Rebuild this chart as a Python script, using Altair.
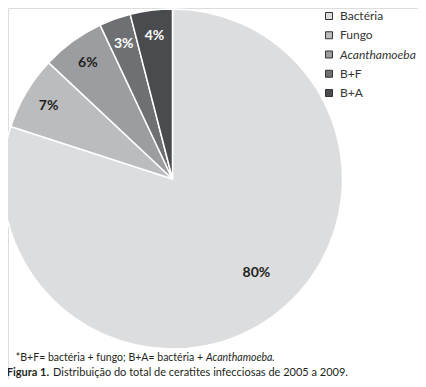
import altair as alt
import pandas as pd

# ---- data ----
categories = ["Bactéria", "Fungo", "Acanthamoeba", "B+F", "B+A"]
values = [80, 7, 6, 3, 4]
palette = ["#dcdddf", "#bbbcbe", "#9c9da0", "#6f7073", "#4a4b4e"]
footnote_normal = "*B+F= bactéria + fungo; B+A= bactéria +"
footnote_italic = "Acanthamoeba."
caption_bold = "Figura 1."
caption_normal = "Distribuição do total de ceratites infecciosas de 2005 a 2009."

FONT = "Lato"
df = pd.DataFrame({"cat": categories, "value": values})

CX, CY, R = 164.5, 171, 170

color_scale = alt.Scale(domain=categories, range=palette)

base = alt.Chart(df).transform_window(
    idx="row_number()"
).transform_calculate(label="datum.value + '%'")

theta = alt.Theta("value:Q", stack=True)
order = alt.Order("idx:Q", sort="ascending")

pie = base.mark_arc(outerRadius=R, stroke="white", strokeWidth=1.5).encode(
    theta=theta,
    order=order,
    color=alt.Color("cat:N", scale=color_scale, legend=None),
    x=alt.value(CX),
    y=alt.value(CY),
)

small_labels = base.mark_text(
    radius=144, font=FONT, fontSize=14, fontWeight="bold", align="center", baseline="middle"
).encode(
    theta=theta,
    order=order,
    x=alt.value(CX),
    y=alt.value(CY),
    text=alt.condition("datum.cat != 'Bactéria'", alt.Text("label:N"), alt.value("")),
    color=alt.condition(
        "datum.cat == 'B+F' || datum.cat == 'B+A'", alt.value("white"), alt.value("#231f20")
    ),
)

big_label = base.mark_text(
    radius=126, thetaOffset=-0.1, font=FONT, fontSize=14, fontWeight="bold",
    align="center", baseline="middle", color="#231f20"
).encode(
    theta=theta,
    order=order,
    x=alt.value(CX),
    y=alt.value(CY),
    text=alt.condition("datum.cat == 'Bactéria'", alt.Text("label:N"), alt.value("")),
)

legend_y = alt.Y(
    "cat:N", sort=categories,
    scale=alt.Scale(type="point", domain=categories, range=[8, 85], padding=0),
    axis=None,
)
legend_base = alt.Chart(df)

swatches = legend_base.mark_square(size=49, stroke="#333333", strokeWidth=1, opacity=1).encode(
    x=alt.value(321),
    y=legend_y,
    color=alt.Color("cat:N", scale=color_scale, legend=None),
)
legend_text = legend_base.mark_text(
    align="left", baseline="middle", font=FONT, fontSize=12, color="#333333"
).encode(
    x=alt.value(332),
    y=legend_y,
    text=alt.condition("datum.cat != 'Acanthamoeba'", alt.Text("cat:N"), alt.value("")),
)
legend_text_it = legend_base.mark_text(
    align="left", baseline="middle", font=FONT, fontSize=12, fontStyle="italic", color="#333333"
).encode(
    x=alt.value(332),
    y=legend_y,
    text=alt.condition("datum.cat == 'Acanthamoeba'", alt.Text("cat:N"), alt.value("")),
)

one = pd.DataFrame({"k": [0]})


def txt(s, x, y, align="left", size=11, **kw):
    return alt.Chart(one).mark_text(
        align=align, baseline="alphabetic", font=FONT, fontSize=size, color="#231f20", **kw
    ).encode(x=alt.value(x), y=alt.value(y), text=alt.value(s))


J1 = 195
J2 = 41
foot1 = txt(footnote_normal, J1, 353, align="right", size=10.5)
foot2 = txt(footnote_italic, J1 + 3, 353, size=10.5, fontStyle="italic")
cap1 = txt(caption_bold, J2, 368, align="right", fontWeight="bold")
cap2 = txt(caption_normal, J2 + 4, 368)

chart = alt.layer(
    pie, small_labels, big_label, swatches, legend_text, legend_text_it,
    foot1, foot2, cap1, cap2
).properties(
    width=410, height=371, padding=0, autosize="none"
).configure_view(stroke=None).configure(background="white")

chart.save("out.html", embed_options={"renderer": "svg", "actions": False})
